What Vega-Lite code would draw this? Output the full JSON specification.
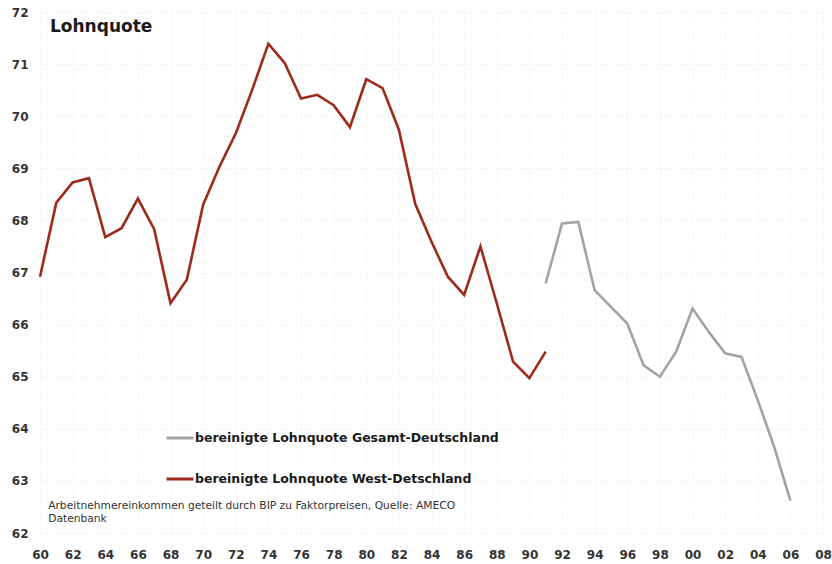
{
  "$schema": "https://vega.github.io/schema/vega-lite/v6.json",
  "autosize": "none",
  "width": 783,
  "height": 521,
  "padding": {"left": 40, "top": 12, "right": 9, "bottom": 31},
  "background": "white",
  "config": {
    "font": "DejaVu Sans",
    "view": {"stroke": null}
  },
  "title": {
    "text": "Lohnquote",
    "anchor": "start",
    "frame": "group",
    "orient": "top",
    "offset": -43,
    "dx": 10,
    "baseline": "alphabetic",
    "fontSize": 17,
    "fontWeight": "bold",
    "color": "#1a1a1a",
    "font": "DejaVu Sans"
  },
  "data": {
    "values": [
      {"year": 1960, "value": 66.92, "series": "bereinigte Lohnquote West-Detschland"},
      {"year": 1961, "value": 68.34, "series": "bereinigte Lohnquote West-Detschland"},
      {"year": 1962, "value": 68.73, "series": "bereinigte Lohnquote West-Detschland"},
      {"year": 1963, "value": 68.81, "series": "bereinigte Lohnquote West-Detschland"},
      {"year": 1964, "value": 67.68, "series": "bereinigte Lohnquote West-Detschland"},
      {"year": 1965, "value": 67.85, "series": "bereinigte Lohnquote West-Detschland"},
      {"year": 1966, "value": 68.42, "series": "bereinigte Lohnquote West-Detschland"},
      {"year": 1967, "value": 67.83, "series": "bereinigte Lohnquote West-Detschland"},
      {"year": 1968, "value": 66.41, "series": "bereinigte Lohnquote West-Detschland"},
      {"year": 1969, "value": 66.86, "series": "bereinigte Lohnquote West-Detschland"},
      {"year": 1970, "value": 68.3, "series": "bereinigte Lohnquote West-Detschland"},
      {"year": 1971, "value": 69.03, "series": "bereinigte Lohnquote West-Detschland"},
      {"year": 1972, "value": 69.67, "series": "bereinigte Lohnquote West-Detschland"},
      {"year": 1973, "value": 70.5, "series": "bereinigte Lohnquote West-Detschland"},
      {"year": 1974, "value": 71.39, "series": "bereinigte Lohnquote West-Detschland"},
      {"year": 1975, "value": 71.02, "series": "bereinigte Lohnquote West-Detschland"},
      {"year": 1976, "value": 70.34, "series": "bereinigte Lohnquote West-Detschland"},
      {"year": 1977, "value": 70.41, "series": "bereinigte Lohnquote West-Detschland"},
      {"year": 1978, "value": 70.21, "series": "bereinigte Lohnquote West-Detschland"},
      {"year": 1979, "value": 69.79, "series": "bereinigte Lohnquote West-Detschland"},
      {"year": 1980, "value": 70.71, "series": "bereinigte Lohnquote West-Detschland"},
      {"year": 1981, "value": 70.54, "series": "bereinigte Lohnquote West-Detschland"},
      {"year": 1982, "value": 69.74, "series": "bereinigte Lohnquote West-Detschland"},
      {"year": 1983, "value": 68.32, "series": "bereinigte Lohnquote West-Detschland"},
      {"year": 1984, "value": 67.59, "series": "bereinigte Lohnquote West-Detschland"},
      {"year": 1985, "value": 66.92, "series": "bereinigte Lohnquote West-Detschland"},
      {"year": 1986, "value": 66.57, "series": "bereinigte Lohnquote West-Detschland"},
      {"year": 1987, "value": 67.5, "series": "bereinigte Lohnquote West-Detschland"},
      {"year": 1988, "value": 66.41, "series": "bereinigte Lohnquote West-Detschland"},
      {"year": 1989, "value": 65.29, "series": "bereinigte Lohnquote West-Detschland"},
      {"year": 1990, "value": 64.97, "series": "bereinigte Lohnquote West-Detschland"},
      {"year": 1991, "value": 65.48, "series": "bereinigte Lohnquote West-Detschland"},
      {"year": 1991, "value": 66.79, "series": "bereinigte Lohnquote Gesamt-Deutschland"},
      {"year": 1992, "value": 67.94, "series": "bereinigte Lohnquote Gesamt-Deutschland"},
      {"year": 1993, "value": 67.97, "series": "bereinigte Lohnquote Gesamt-Deutschland"},
      {"year": 1994, "value": 66.66, "series": "bereinigte Lohnquote Gesamt-Deutschland"},
      {"year": 1995, "value": 66.34, "series": "bereinigte Lohnquote Gesamt-Deutschland"},
      {"year": 1996, "value": 66.02, "series": "bereinigte Lohnquote Gesamt-Deutschland"},
      {"year": 1997, "value": 65.22, "series": "bereinigte Lohnquote Gesamt-Deutschland"},
      {"year": 1998, "value": 65.0, "series": "bereinigte Lohnquote Gesamt-Deutschland"},
      {"year": 1999, "value": 65.48, "series": "bereinigte Lohnquote Gesamt-Deutschland"},
      {"year": 2000, "value": 66.31, "series": "bereinigte Lohnquote Gesamt-Deutschland"},
      {"year": 2001, "value": 65.86, "series": "bereinigte Lohnquote Gesamt-Deutschland"},
      {"year": 2002, "value": 65.45, "series": "bereinigte Lohnquote Gesamt-Deutschland"},
      {"year": 2003, "value": 65.38, "series": "bereinigte Lohnquote Gesamt-Deutschland"},
      {"year": 2004, "value": 64.55, "series": "bereinigte Lohnquote Gesamt-Deutschland"},
      {"year": 2005, "value": 63.66, "series": "bereinigte Lohnquote Gesamt-Deutschland"},
      {"year": 2006, "value": 62.62, "series": "bereinigte Lohnquote Gesamt-Deutschland"}
    ]
  },
  "layer": [
    {
      "mark": {"type": "line", "strokeWidth": 2.6},
      "encoding": {
        "x": {
          "field": "year",
          "type": "quantitative",
          "scale": {"domain": [1960, 2008], "nice": false, "zero": false},
          "axis": {
            "title": null,
            "values": [1960, 1962, 1964, 1966, 1968, 1970, 1972, 1974, 1976, 1978, 1980, 1982, 1984, 1986, 1988, 1990, 1992, 1994, 1996, 1998, 2000, 2002, 2004, 2006, 2008],
            "tickCount": 40,
            "labelExpr": "(datum.value % 100) < 10 ? '0' + (datum.value % 100) : '' + (datum.value % 100)",
            "domain": false,
            "ticks": false,
            "labelPadding": 16,
            "labelFontSize": 12,
            "labelFontWeight": "bold",
            "labelColor": "#333333",
            "labelFlush": false,
            "labelOverlap": false,
            "grid": true,
            "gridColor": "#efefef",
            "gridDash": [2, 3]
          }
        },
        "y": {
          "field": "value",
          "type": "quantitative",
          "scale": {"domain": [62, 72], "nice": false, "zero": false},
          "axis": {
            "title": null,
            "values": [62, 63, 64, 65, 66, 67, 68, 69, 70, 71, 72],
            "format": "d",
            "domain": false,
            "ticks": false,
            "labelPadding": 12,
            "labelFontSize": 12,
            "labelFontWeight": "bold",
            "labelColor": "#333333",
            "labelFlush": false,
            "labelOverlap": false,
            "grid": true,
            "gridColor": "#efefef",
            "gridDash": [2, 3]
          }
        },
        "detail": {"field": "series"},
        "color": {
          "field": "series",
          "type": "nominal",
          "scale": {
            "domain": ["bereinigte Lohnquote Gesamt-Deutschland", "bereinigte Lohnquote West-Detschland"],
            "range": ["#a3a3a3", "#9e2a1c"]
          },
          "legend": {
            "title": null,
            "orient": "none",
            "legendX": 125,
            "legendY": 411,
            "direction": "vertical",
            "symbolType": "stroke",
            "symbolSize": 729,
            "symbolStrokeWidth": 3,
            "labelFont": "DejaVu Sans",
            "labelFontSize": 12.5,
            "labelFontWeight": "bold",
            "labelColor": "#1a1a1a",
            "labelOffset": 0,
            "rowPadding": 19,
            "labelLimit": 400
          }
        }
      }
    },
    {
      "data": {
        "values": [
          {"year": 1960.5, "value": 62.52, "text": "Arbeitnehmereinkommen geteilt durch BIP zu Faktorpreisen, Quelle: AMECO"},
          {"year": 1960.5, "value": 62.27, "text": "Datenbank"}
        ]
      },
      "mark": {"type": "text", "align": "left", "baseline": "middle", "fontSize": 10.7, "font": "DejaVu Sans", "color": "#333333"},
      "encoding": {
        "x": {"field": "year", "type": "quantitative"},
        "y": {"field": "value", "type": "quantitative"},
        "text": {"field": "text"}
      }
    }
  ]
}
